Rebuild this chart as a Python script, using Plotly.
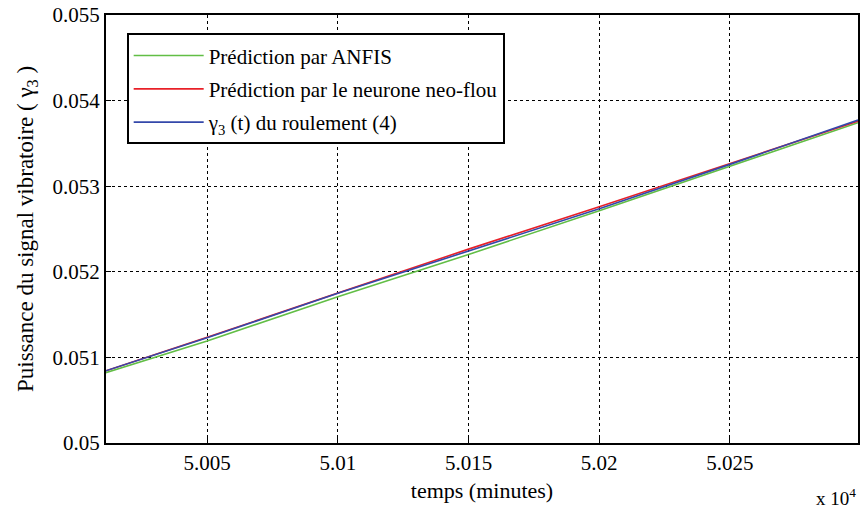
import plotly.graph_objects as go

# temps (minutes)
t_minutes = [50011, 50050, 50100, 50150, 50200, 50250, 50299]
anfis = [0.050820, 0.051192, 0.051709, 0.052202, 0.052714, 0.053230, 0.053742]
neo_flou = [0.050841, 0.051235, 0.051752, 0.052265, 0.052760, 0.053268, 0.053760]
gamma3 = [0.050841, 0.051230, 0.051749, 0.052242, 0.052737, 0.053255, 0.053773]

x_tickvals = [50050, 50100, 50150, 50200, 50250]
x_ticktext = ["5.005", "5.01", "5.015", "5.02", "5.025"]
y_tickvals = [0.050, 0.051, 0.052, 0.053, 0.054, 0.055]
y_ticktext = ["0.05", "0.051", "0.052", "0.053", "0.054", "0.055"]

FONT = "'Liberation Serif', 'Times New Roman', serif"

fig = go.Figure()
fig.add_trace(go.Scatter(x=t_minutes, y=anfis, mode="lines", name="Prédiction par ANFIS",
                         line=dict(color="rgb(98,190,70)", width=1.6), legendgroup="a"))
fig.add_trace(go.Scatter(x=t_minutes, y=neo_flou, mode="lines", name="Prédiction par le neurone neo-flou",
                         line=dict(color="rgb(232,32,40)", width=1.6), legendgroup="b"))
fig.add_trace(go.Scatter(x=t_minutes, y=gamma3, mode="lines", name="γ<sub>3</sub> (t) du roulement (4)",
                         line=dict(color="rgb(52,72,170)", width=1.6), legendgroup="c"))

axis_common = dict(showline=True, linecolor="black", linewidth=2, mirror=True,
                   ticks="inside", ticklen=5, tickcolor="black", tickwidth=1,
                   showgrid=True, gridcolor="black", gridwidth=1, griddash="dot",
                   zeroline=False, tickfont=dict(family=FONT, size=21, color="black"))

fig.update_xaxes(range=[50011.3, 50299], tickvals=x_tickvals, ticktext=x_ticktext,
                 title=dict(text="temps (minutes)", font=dict(family=FONT, size=22, color="black"), standoff=8),
                 **axis_common)
fig.update_yaxes(range=[0.050, 0.055], tickvals=y_tickvals, ticktext=y_ticktext,
                 title=dict(text="Puissance du signal vibratoire ( γ<sub>3</sub> )",
                            font=dict(family=FONT, size=23, color="black"), standoff=12),
                 **axis_common)

fig.add_annotation(text="x 10<sup>4</sup>", xref="paper", yref="paper", x=1.0, y=-0.158,
                   xanchor="right", yanchor="bottom", showarrow=False,
                   font=dict(family=FONT, size=19, color="black"))

fig.update_layout(
    width=861, height=517,
    font=dict(family=FONT, size=20, color="black"),
    margin=dict(l=106, r=1, t=15, b=74),
    paper_bgcolor="white", plot_bgcolor="white",
    showlegend=True,
    legend=dict(x=0.0275, y=0.957, xanchor="left", yanchor="top",
                bgcolor="white", bordercolor="black", borderwidth=2,
                font=dict(family=FONT, size=21, color="black"),
                itemwidth=70, tracegroupgap=3, traceorder="grouped"),
)

fig.write_html("out.html", config={"displayModeBar": False},
               post_script="document.body.style.margin='0';document.body.style.overflow='hidden';")
